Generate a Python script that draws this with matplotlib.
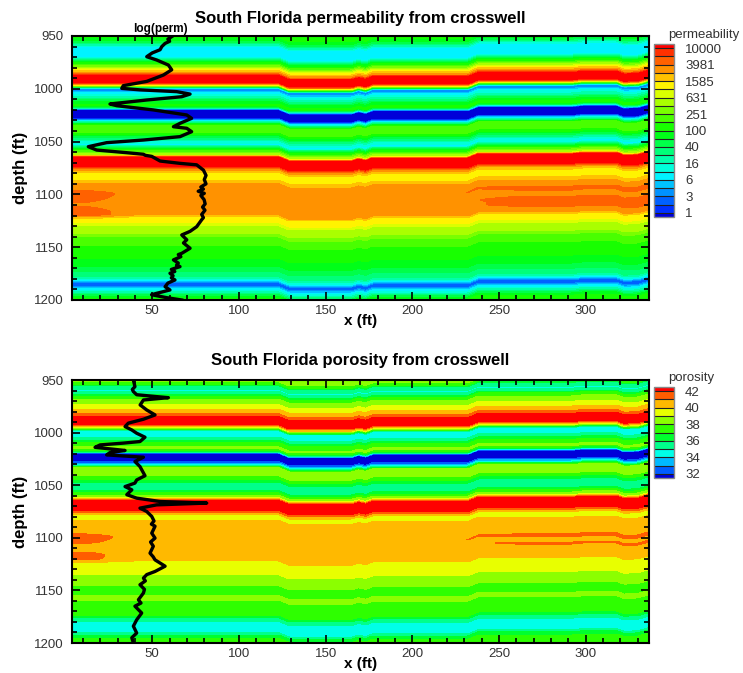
import numpy as np
import matplotlib.pyplot as plt
from matplotlib.colors import hsv_to_rgb, ListedColormap
from matplotlib.ticker import MultipleLocator

plt.rcParams['font.family'] = ['Liberation Sans', 'DejaVu Sans']

# ---- data ----
# log10(permeability) profile (depth ft, value)
perm_depth = [950, 953, 956, 960, 965, 970, 974, 977, 980, 983, 986, 988, 994, 996, 998,
              1000, 1002, 1005, 1009, 1013, 1016, 1018, 1020, 1028, 1030, 1032, 1035,
              1039, 1043, 1047, 1050, 1053, 1056, 1060, 1063, 1065, 1073, 1076, 1080,
              1085, 1088, 1091, 1100, 1110, 1119, 1122, 1127, 1131, 1137, 1142, 1148,
              1153, 1158, 1163, 1168, 1173, 1178, 1181, 1184, 1187, 1190, 1194, 1197, 1200]
perm_logval = [2.1, 1.9, 1.6, 1.0, 0.8, 0.95, 1.8, 2.2, 2.7, 3.2, 3.6, 4.1, 4.1, 3.3, 2.0,
               0.5, 0.5, 1.0, 1.4, 1.9, 2.1, 1.4, -0.1, -0.1, 0.8, 1.4, 2.4,
               2.4, 2.0, 1.5, 1.1, 0.9, 1.7, 2.4, 2.8, 4.1, 4.1, 3.5, 3.1,
               3.1, 3.3, 3.45, 3.5, 3.45, 3.45, 3.1, 3.0, 2.7, 2.6, 2.3, 2.2,
               2.0, 2.1, 1.9, 1.8, 1.6, 1.4, 1.0, 0.35, 0.35, 0.9, 1.4, 1.9, 2.1]

# porosity profile (depth ft, porosity %)
poro_depth = [950, 953, 956, 960, 963, 966, 970, 975, 979, 983, 986, 992, 995, 998,
              1002, 1006, 1010, 1015, 1018, 1020, 1027, 1029, 1031, 1034, 1039, 1043,
              1047, 1051, 1055, 1059, 1062, 1065, 1073, 1076, 1079, 1082, 1086, 1100,
              1110, 1120, 1124, 1133, 1138, 1144, 1148, 1153, 1157, 1162, 1168, 1173,
              1177, 1181, 1186, 1190, 1194, 1200]
poro_val = [38.5, 37.6, 35.5, 34.8, 35.5, 37.5, 38.4, 39.3, 40.3, 41.2, 42.5, 42.5, 39.5, 35.0,
            34.4, 35.5, 37.2, 38.3, 36.0, 31.5, 31.5, 33.0, 35.0, 38.6, 38.7, 37.4,
            36.0, 34.9, 35.8, 37.8, 39.0, 42.5, 42.5, 41.0, 39.6, 39.7, 40.5, 40.6,
            40.5, 40.4, 39.6, 39.3, 38.6, 38.3, 37.5, 37.7, 38.3, 37.6, 37.8, 37.2,
            35.6, 34.6, 34.4, 34.8, 36.8, 37.6]

# local departures: near the well (west) and east of x ~ 200 ft
west_depth = [950, 1094, 1099, 1104, 1110, 1116, 1120, 1125, 1200]
west_perm_delta = [0, 0, 0.25, 0.2, 0.1, 0.3, 0.3, 0, 0]
west_poro_delta = [0, 0, 0.9, 0.6, 0, 0.9, 0.9, 0, 0]
east_depth = [950, 1092, 1097, 1101, 1104, 1108, 1113, 1118, 1200]
east_perm_delta = [0, 0, 0.2, 0.0, 0.1, 0.2, 0.2, 0, 0]
east_poro_delta = [0, 0, 0, 0.7, 0, 0.6, 0, 0, 0]

# vertical offset of the layers across the section (x ft, shift ft)
shift_x = [3.7, 100, 123, 129, 165, 169, 173, 177, 232, 238, 292, 298, 318, 322, 330, 336.5]
shift_ft = [0, 0, 0, 4, 4, 2, 3.5, 1, 1, -3, -3, -4, -4, -1.5, -2, -5]

# well log curves (x position ft, depth ft)
logperm_x = [61.2, 59.0, 60.0, 57.4, 55.5, 54.5, 50.0, 46.8, 52.5, 59.3, 61.2, 56.4,
             46.8, 33.3, 32.4, 42.9, 64.1, 71.8, 67.0, 46.8, 25.6, 29.5, 50.6, 69.9,
             72.7, 66.0, 62.2, 69.9, 72.7, 66.0, 45.0, 23.7, 13.1, 17.9, 35.2, 44.9,
             46.0, 49.7, 54.5, 66.0, 75.6, 79.5, 81.0, 80.0, 81.0, 78.0, 79.5, 76.5,
             80.0, 78.0, 79.9, 80.5, 79.0, 80.4, 78.5, 79.5, 78.5, 75.6, 71.8, 67.0,
             69.9, 68.0, 71.8, 67.0, 65.0, 66.5, 62.2, 65.0, 64.0, 66.0, 61.0, 63.0,
             60.2, 62.0, 61.0, 63.1, 59.0, 57.4, 60.2, 52.5, 49.6, 58.3, 67.0]
logperm_d = [950.6, 953, 955, 957, 960, 963, 966, 969.6, 972.7, 977.5, 982, 987,
             993, 997, 999.6, 1001, 1002.7, 1005, 1007.5, 1010.6, 1014.4, 1016, 1020, 1024.8,
             1028, 1032.7, 1035.9, 1037.4, 1040.6, 1045.3, 1048.5, 1051, 1054.8, 1058, 1060.5, 1062,
             1063, 1064, 1068.4, 1070.6, 1072, 1077, 1082, 1086, 1090, 1093, 1095, 1097,
             1099, 1101, 1105, 1109, 1112, 1115, 1119, 1122, 1124, 1130.6, 1135, 1138.4,
             1143, 1146, 1151, 1155.8, 1157, 1159, 1162, 1165, 1167, 1168.4, 1171, 1173,
             1174.7, 1177, 1179, 1181, 1184, 1187.4, 1190.5, 1193.7, 1195, 1197.8, 1200]

poro_x = [39.1, 40.0, 38.5, 39.1, 41.0, 52.5, 59.3, 44.9, 43.0, 46.8, 51.6, 44.9, 36.2,
          34.3, 38.2, 41.0, 45.8, 42.9, 33.3, 19.9, 17.0, 27.5, 34.3, 25.6, 23.7,
          44.9, 40.0, 42.9, 45.8, 41.0, 40.0, 34.3, 38.2, 35.3, 41.0, 54.5, 81.4,
          52.5, 42.9, 46.8, 49.7, 51.0, 49.5, 51.6, 49.7, 51.6, 49.0, 50.6, 48.7,
          50.5, 51.6, 57.4, 51.6, 46.8, 44.9, 46.0, 42.9, 45.5, 44.9, 42.0, 43.5,
          40.0, 43.9, 41.0, 39.1, 41.0, 38.2, 39.1]
poro_d = [950.0, 956.3, 959.0, 961.0, 964.0, 965.8, 966.8, 969.0, 973.7, 978.5, 983.2, 987.3, 991.0,
          994.3, 997.5, 1000.6, 1004.4, 1008.5, 1010.0, 1011.7, 1014.0, 1015.8, 1017.0, 1019.0, 1021.2,
          1023.4, 1027.5, 1032.3, 1041.0, 1045.0, 1048.0, 1051.3, 1054.4, 1059.0, 1062.3, 1065.5, 1067.0,
          1068.7, 1071.8, 1075.0, 1079.7, 1084.0, 1087.0, 1089.0, 1095.6, 1100.3, 1104.0, 1108.0, 1114.6,
          1118.0, 1121.0, 1127.0, 1132.0, 1135.0, 1138.3, 1141.0, 1144.6, 1149.0, 1152.5, 1158.9, 1162.0,
          1165.0, 1171.5, 1178.0, 1184.0, 1190.5, 1195.0, 1200.0]

perm_levels = np.arange(0, 4.01, 0.2)          # log10 levels
perm_ticklabels = ["1", "3", "6", "16", "40", "100", "251", "631", "1585", "3981", "10000"]
poro_levels = np.arange(32, 42.5, 1.0)
poro_ticklabels = ["32", "34", "36", "38", "40", "42"]

xlim = (3.7, 336.5)


def rainbow(n):
    hues = np.linspace(240, 0, n) / 360.0
    cols = [hsv_to_rgb((h, 1.0, 1.0)) for h in hues]
    cols[0] = (0.0, 0.0, 0.85)
    return cols


def build_field(depth_nodes, values, west, east, X, D):
    S = np.interp(X, shift_x, shift_ft)
    Z = np.interp(D - S, depth_nodes, values)
    w_west = np.interp(X, [3.7, 12, 40], [1, 1, 0])
    w_east = np.interp(X, [190, 260], [0, 1])
    Z = Z + w_west * np.interp(D, west_depth, west)
    Z = Z + w_east * np.interp(D - S, east_depth, east)
    return Z


fig = plt.figure(figsize=(7.43, 6.73), dpi=100)
W, H = 743, 673

xs = np.linspace(xlim[0], xlim[1], 500)
ds = np.linspace(950, 1200, 700)
X, D = np.meshgrid(xs, ds)

panels = [
    dict(top=36, bottom=300, depth=perm_depth, vals=perm_logval,
         west=west_perm_delta, east=east_perm_delta,
         levels=perm_levels, ticks=perm_levels[::2], ticklabels=perm_ticklabels,
         cbar=(654, 44, 674, 217), cbar_title="permeability",
         title="South Florida permeability from crosswell", lx=logperm_x, ld=logperm_d),
    dict(top=380, bottom=643, depth=poro_depth, vals=poro_val,
         west=west_poro_delta, east=east_poro_delta,
         levels=poro_levels, ticks=poro_levels[::2], ticklabels=poro_ticklabels,
         cbar=(654, 387, 674, 478), cbar_title="porosity",
         title="South Florida porosity from crosswell", lx=poro_x, ld=poro_d),
]

for i, p in enumerate(panels):
    ax = fig.add_axes([72 / W, 1 - p['bottom'] / H, 577 / W, (p['bottom'] - p['top']) / H])
    lev = p['levels']
    cols = rainbow(len(lev) + 1)
    cmap = ListedColormap(cols[1:-1])
    cmap.set_under(cols[0])
    cmap.set_over(cols[-1])
    Z = build_field(p['depth'], p['vals'], p['west'], p['east'], X, D)
    cf = ax.contourf(X, D, Z, levels=lev, cmap=cmap, extend='both')
    ax.plot(p['lx'], p['ld'], color='black', lw=2.4, solid_joinstyle='round')

    ax.set_xlim(*xlim)
    ax.set_ylim(1200, 950)
    ax.set_yticks([950, 1000, 1050, 1100, 1150, 1200])
    ax.set_xticks([50, 100, 150, 200, 250, 300])
    ax.xaxis.set_minor_locator(MultipleLocator(10))
    ax.yaxis.set_minor_locator(MultipleLocator(10))
    ax.tick_params(which='both', direction='in', top=True, right=True,
                   labelsize=9.5, labelcolor='#333333', width=1.2)
    ax.tick_params(axis='y', which='major', pad=6)
    ax.tick_params(which='major', length=6)
    ax.tick_params(which='minor', length=3.5)
    for s in ax.spines.values():
        s.set_linewidth(1.5)
    ax.set_ylabel("depth (ft)", fontsize=12, fontweight='bold', labelpad=4)
    ax.set_xlabel("x (ft)", fontsize=11, fontweight='bold', labelpad=-2)
    ax.set_title(p['title'], fontsize=12, fontweight='bold', pad=9 if i == 0 else 11)
    if i == 0:
        ax.text(54.5, 949, "log(perm)", fontsize=8.5, fontweight='bold',
                ha='center', va='bottom')

    x0, y0, x1, y1 = p['cbar']
    cax = fig.add_axes([x0 / W, 1 - y1 / H, (x1 - x0) / W, (y1 - y0) / H])
    cb = fig.colorbar(cf, cax=cax, ticks=p['ticks'], drawedges=True,
                      extendrect=True, extendfrac=0.5 / (len(lev) - 1))
    cb.set_ticklabels(p['ticklabels'])
    cb.ax.tick_params(length=0, labelsize=9.5, labelcolor='#333333', pad=8)
    cb.outline.set_edgecolor('#888888')
    cb.outline.set_linewidth(1.0)
    cb.dividers.set_color('#222222')
    cb.dividers.set_linewidth(0.8)
    fig.text((x0 + 14) / W, 1 - (y0 - 3) / H, p['cbar_title'], fontsize=9.5,
             color='#333333', ha='left', va='bottom')

fig.savefig("out.png", dpi=100)
